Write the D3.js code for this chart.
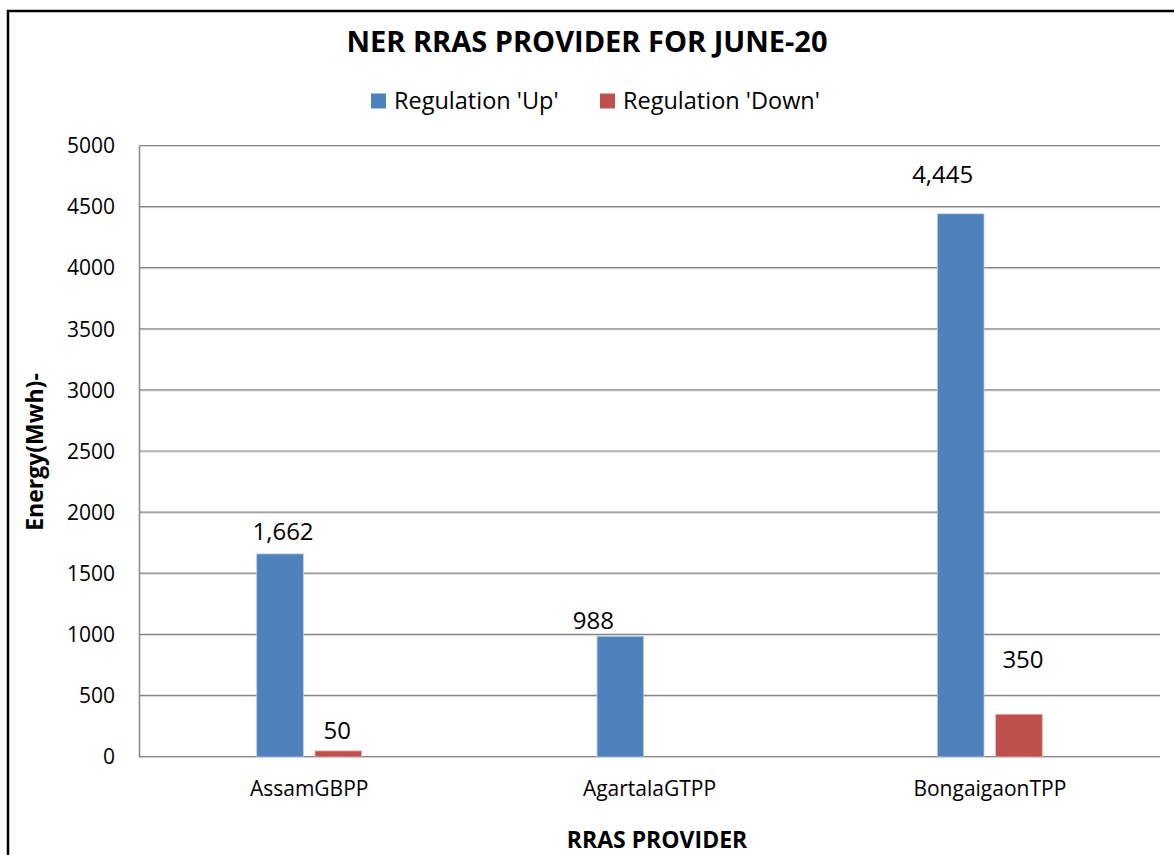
<!DOCTYPE html>
<html>
<head>
<meta charset="utf-8">
<script src="https://cdn.jsdelivr.net/npm/d3@7"></script>
<style>
  body { margin: 0; background: #fff; }
  svg { display: block; font-family: "Open Sans", sans-serif; }
</style>
</head>
<body>
<div id="chart"></div>
<script>
// chart data
var providers = ["AssamGBPP", "AgartalaGTPP", "BongaigaonTPP"];
var seriesNames = ["Regulation 'Up'", "Regulation 'Down'"];
var regulationUp = [1662, 988, 4445];
var regulationDown = [50, null, 350];
var yTicks = [0, 500, 1000, 1500, 2000, 2500, 3000, 3500, 4000, 4500, 5000];

var colors = ["#4F81BD", "#C0504D"];

var width = 1174, height = 855;
var margin = { top: 146, right: 14, bottom: 98, left: 139 };
var plotW = width - margin.left - margin.right;
var plotH = height - margin.top - margin.bottom;

var svg = d3.select("#chart").append("svg")
    .attr("width", width)
    .attr("height", height);

// outer chart frame (cut off at right and bottom)
svg.append("rect")
    .attr("x", 8).attr("y", 11)
    .attr("width", 1200).attr("height", 900)
    .attr("fill", "#fff")
    .attr("stroke", "#000")
    .attr("stroke-width", 2.5);

var g = svg.append("g")
    .attr("transform", "translate(" + margin.left + "," + margin.top + ")");

var x0 = d3.scaleBand().domain(providers).range([0, plotW]);
var x1 = d3.scaleBand().domain(seriesNames).range([0, x0.bandwidth()])
    .paddingInner(0.2).paddingOuter(2.02);
var y = d3.scaleLinear().domain([0, 5000]).range([plotH, 0]);

// gridlines (grey line with a light shadow under it)
g.append("g")
    .selectAll("line")
    .data(yTicks)
    .enter().append("line")
    .attr("x1", 0).attr("x2", plotW)
    .attr("y1", function (d) { return y(d) + 0.5; })
    .attr("y2", function (d) { return y(d) + 0.5; })
    .attr("stroke", "#d4d4d4")
    .attr("stroke-width", 1);
g.append("g")
    .selectAll("line")
    .data(yTicks)
    .enter().append("line")
    .attr("x1", 0).attr("x2", plotW)
    .attr("y1", function (d) { return y(d) - 0.5; })
    .attr("y2", function (d) { return y(d) - 0.5; })
    .attr("stroke", "#878787")
    .attr("stroke-width", 1.2);

// y axis
var yAxis = g.append("g")
    .call(d3.axisLeft(y).tickValues(yTicks).tickSize(0).tickPadding(24).tickFormat(d3.format("d")));
yAxis.select(".domain").attr("stroke", "#878787").attr("stroke-width", 1.5);
yAxis.selectAll("text")
    .attr("font-size", 21)
    .attr("fill", "#000")
    .attr("font-family", "Open Sans, sans-serif");

// x axis labels
var xAxis = g.append("g")
    .attr("transform", "translate(0," + plotH + ")")
    .call(d3.axisBottom(x0).tickSize(0).tickPadding(24));
xAxis.select(".domain").remove();
xAxis.selectAll("text")
    .attr("font-size", 21)
    .attr("fill", "#000")
    .attr("font-family", "Open Sans, sans-serif");

// bars
var rows = providers.map(function (p, i) {
    return { provider: p, values: [regulationUp[i], regulationDown[i]] };
});

// manual label nudges (dx, dy) in the original, per series then provider
var labelNudge = [
    [[3, -2], [-27, 4], [-18, -19]],
    [[-1, 0], [0, 0], [4, -35]]
];

function points(d, pi) {
    return d.values.map(function (v, si) { return { s: si, p: pi, v: v }; })
        .filter(function (e) { return e.v != null; });
}

var groups = g.selectAll(".grp")
    .data(rows)
    .enter().append("g")
    .attr("class", "grp")
    .attr("transform", function (d) { return "translate(" + x0(d.provider) + ",0)"; });

groups.selectAll("rect")
    .data(points)
    .enter().append("rect")
    .attr("x", function (d) { return x1(seriesNames[d.s]); })
    .attr("y", function (d) { return y(d.v); })
    .attr("width", x1.bandwidth())
    .attr("height", function (d) { return plotH - y(d.v); })
    .attr("fill", function (d) { return colors[d.s]; })
    .attr("stroke", function (d) { return d.s === 0 ? "#b9cde5" : "#e6b9b8"; })
    .attr("stroke-width", 0.8);

groups.selectAll("text.lbl")
    .data(points)
    .enter().append("text")
    .attr("class", "lbl")
    .attr("x", function (d) { return x1(seriesNames[d.s]) + x1.bandwidth() / 2 + labelNudge[d.s][d.p][0]; })
    .attr("y", function (d) { return y(d.v) - 20 + labelNudge[d.s][d.p][1]; })
    .attr("dy", "0.35em")
    .attr("text-anchor", "middle")
    .attr("font-size", 24)
    .text(function (d) { return d3.format(",")(d.v); });

// title
svg.append("text")
    .attr("x", 587).attr("y", 42)
    .attr("dy", "0.35em")
    .attr("text-anchor", "middle")
    .attr("font-size", 29)
    .attr("font-weight", "bold")
    .text("NER RRAS PROVIDER FOR JUNE-20");

// legend
var legend = svg.append("g").attr("transform", "translate(371,101)");
var legendX = [0, 229];
seriesNames.forEach(function (name, i) {
    var item = legend.append("g").attr("transform", "translate(" + legendX[i] + ",0)");
    item.append("rect")
        .attr("x", 0).attr("y", -7.5)
        .attr("width", 15).attr("height", 15)
        .attr("fill", colors[i]);
    item.append("text")
        .attr("x", 23).attr("y", 0)
        .attr("dy", "0.35em")
        .attr("font-size", 23.5)
        .text(name);
});

// axis titles
svg.append("text")
    .attr("transform", "translate(35,452) rotate(-90)")
    .attr("dy", "0.35em")
    .attr("text-anchor", "middle")
    .attr("font-size", 23)
    .attr("font-weight", "bold")
    .text("Energy(Mwh)-");

svg.append("text")
    .attr("x", 657).attr("y", 840)
    .attr("dy", "0.35em")
    .attr("text-anchor", "middle")
    .attr("font-size", 23)
    .attr("font-weight", "bold")
    .text("RRAS PROVIDER");
</script>
</body>
</html>
